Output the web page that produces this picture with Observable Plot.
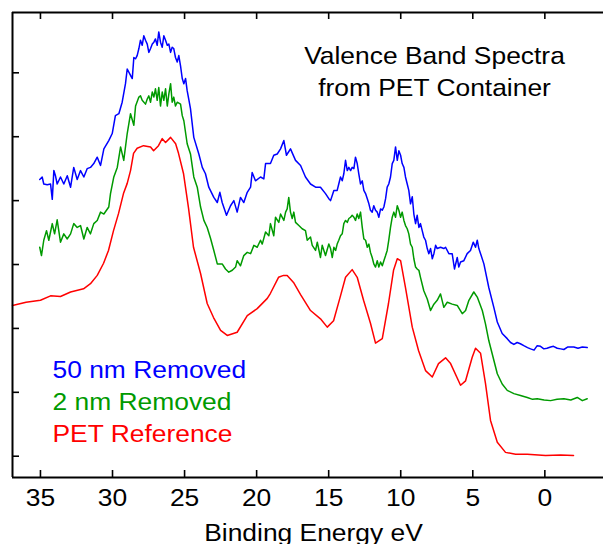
<!DOCTYPE html>
<html>
<head>
<meta charset="utf-8">
<script src="https://cdn.jsdelivr.net/npm/d3@7"></script>
<script src="https://cdn.jsdelivr.net/npm/@observablehq/plot@0.6"></script>
<style>
  html, body { margin: 0; padding: 0; background: #fff; }
  #chart svg { display: block; }
</style>
</head>
<body>
<div id="chart"></div>
<script>
// Valence band XPS spectra (binding energy in eV, intensity in arbitrary units, offset per spectrum)
const blueEnergy = [35.05,34.88,34.77,34.53,34.30,34.18,34.07,33.96,33.84,33.61,33.38,33.14,32.91,32.69,32.45,32.22,31.99,31.76,31.53,31.30,31.06,30.83,30.60,30.26,30.02,
  29.80,29.56,29.33,29.10,28.98,28.75,28.63,28.52,28.40,28.29,28.17,28.06,27.94,27.83,27.71,27.59,27.48,27.36,27.24,27.13,27.02,26.90,26.79,26.67,26.55,26.44,26.32,26.20,26.09,25.97,25.86,25.75,25.63,25.51,25.40,25.28,25.16,25.05,24.93,24.82,24.71,24.59,
  24.36,24.01,23.77,23.55,23.32,22.97,22.73,22.55,22.39,22.09,21.81,21.58,21.35,21.12,20.89,20.65,20.42,20.31,20.08,19.73,19.50,19.38,19.04,18.81,18.57,18.34,18.11,17.93,17.65,17.30,16.95,16.61,16.26,15.91,15.57,15.22,14.99,
  14.87,14.64,14.41,14.30,14.18,14.06,13.95,13.83,13.71,13.60,13.48,13.37,13.25,13.14,13.02,12.91,12.79,12.67,12.56,12.44,12.32,12.21,12.10,11.98,11.87,11.75,11.63,11.52,11.40,11.28,11.17,11.05,10.94,10.83,10.71,10.59,10.48,10.36,10.24,10.13,10.01,9.90,9.78,9.67,9.55,9.44,9.32,9.20,9.09,8.97,8.86,8.74,8.63,8.51,8.40,8.28,8.16,8.05,7.93,7.81,7.70,7.58,7.47,7.24,7.01,6.89,6.66,6.43,6.27,6.08,5.97,5.85,5.62,5.39,5.16,4.97,4.81,4.69,4.58,4.46,4.23,
  3.89,3.54,3.30,2.96,2.61,2.38,2.15,1.92,1.70,1.46,1.20,0.99,0.75,0.53,0.30,0.07,-0.15,-0.40,-0.60,-0.86,-1.10,-1.32,-1.60,-2.01,-2.30,-2.60,-2.94];
const blueIntensity = [4.33,4.37,4.26,4.25,4.26,4.02,4.47,4.39,4.26,4.37,4.26,4.39,4.21,4.52,4.33,4.47,4.37,4.50,4.52,4.58,4.68,4.55,4.81,4.94,5.05,
  5.33,5.36,5.54,5.83,6.06,5.96,5.91,6.24,6.22,6.27,6.38,6.51,6.43,6.58,6.51,6.45,6.32,6.38,6.45,6.48,6.53,6.43,6.64,6.48,6.40,6.58,6.51,6.43,6.45,6.32,6.40,6.38,6.24,6.17,6.27,6.11,5.91,5.83,5.91,5.72,5.59,5.44,
  4.99,4.73,4.52,4.42,4.21,4.05,3.97,4.13,3.97,3.77,3.92,4.00,3.82,4.05,3.97,4.13,4.21,4.44,4.31,4.37,4.34,4.58,4.58,4.71,4.73,4.81,4.94,4.71,4.81,4.63,4.55,4.37,4.26,4.21,4.21,4.11,4.03,
  4.00,4.16,4.16,4.26,4.37,4.31,4.42,4.63,4.47,4.52,4.47,4.52,4.50,4.68,4.58,4.42,4.26,4.31,4.16,4.11,4.03,3.95,3.85,3.82,3.92,3.85,3.82,3.74,3.87,3.85,3.90,4.03,4.21,4.26,4.37,4.58,4.63,4.84,4.63,4.78,4.71,4.58,4.52,4.37,4.26,4.16,3.95,4.06,3.79,3.64,3.77,3.58,3.64,3.53,3.43,3.38,3.25,3.17,3.25,3.09,3.17,3.30,3.25,3.27,3.25,3.27,3.17,3.17,2.93,3.11,2.96,3.04,3.06,3.17,3.22,3.35,3.27,3.38,3.25,3.17,3.01,
  2.64,2.33,2.10,1.92,1.84,1.78,1.75,1.78,1.76,1.73,1.70,1.68,1.66,1.73,1.72,1.68,1.69,1.71,1.72,1.69,1.68,1.67,1.71,1.71,1.69,1.71,1.70];

const greenEnergy = [35.05,34.93,34.77,34.58,34.42,34.18,34.02,33.84,33.61,33.38,33.14,32.91,32.69,32.45,32.22,31.99,31.76,31.53,31.30,31.06,30.83,30.60,30.26,30.14,29.91,29.67,29.44,29.22,28.98,
  28.75,28.52,28.40,28.17,28.06,27.94,27.71,27.59,27.48,27.36,27.24,27.13,27.02,26.90,26.79,26.67,26.55,26.44,26.32,26.20,26.09,25.97,25.86,25.75,25.63,25.51,25.28,25.16,25.05,
  24.82,24.59,24.36,24.12,23.89,23.66,23.43,23.20,22.97,22.73,22.39,
  22.16,21.93,21.69,21.46,21.35,21.12,20.89,20.65,20.42,20.19,19.96,19.73,19.61,19.38,19.15,19.04,18.81,18.69,18.46,18.34,18.11,17.99,17.88,17.77,17.65,17.53,17.42,17.30,17.07,16.84,16.61,16.49,16.26,16.14,15.91,15.79,15.57,15.45,15.22,14.99,
  14.87,14.75,14.64,14.52,14.41,14.30,14.18,14.06,13.95,13.83,13.71,13.60,13.48,13.37,13.25,13.14,13.02,12.91,12.79,12.67,12.56,12.44,12.32,12.21,12.10,11.98,11.87,11.75,11.63,11.52,11.40,11.28,11.17,11.05,10.94,10.83,10.71,10.59,10.48,10.36,10.24,10.13,10.01,9.90,9.78,9.67,9.55,9.44,9.32,9.20,9.09,8.97,8.86,8.74,8.63,
  8.40,8.16,7.93,7.70,7.47,7.24,7.01,6.77,6.43,6.08,5.73,5.50,5.27,4.93,4.69,4.34,4.12,3.89,3.65,3.30,2.96,2.61,2.15,1.69,1.22,0.85,0.53,0.05,-0.40,-0.85,-1.32,-1.80,-2.25,-2.60,-2.94];
const greenIntensity = [3.27,3.14,3.38,3.53,3.38,3.64,3.48,3.70,3.35,3.48,3.40,3.48,3.64,3.58,3.61,3.40,3.58,3.48,3.64,3.69,3.82,3.79,3.90,4.11,4.37,4.52,4.84,4.63,5.05,
  5.36,5.18,5.48,5.62,5.64,5.57,5.51,5.59,5.64,5.54,5.70,5.62,5.75,5.57,5.77,5.48,5.70,5.57,5.75,5.48,5.67,5.83,5.54,5.62,5.48,5.54,5.51,5.33,5.25,
  4.89,4.73,4.37,4.21,3.90,3.69,3.58,3.41,3.22,3.01,3.01,
  2.93,2.88,2.91,2.96,3.06,2.98,3.14,3.19,3.17,3.30,3.27,3.38,3.32,3.51,3.45,3.64,3.45,3.74,3.66,3.79,3.69,3.82,3.87,4.05,3.82,3.72,3.82,3.66,3.61,3.56,3.53,3.38,3.43,3.30,3.22,3.35,3.11,3.30,3.14,3.32,
  3.25,3.11,3.27,3.22,3.32,3.38,3.45,3.48,3.64,3.69,3.66,3.72,3.74,3.77,3.74,3.69,3.79,3.72,3.82,3.58,3.40,3.38,3.27,3.32,3.19,3.11,3.01,2.96,3.06,2.96,3.04,2.98,3.06,3.14,3.22,3.38,3.58,3.74,3.82,3.74,3.92,3.85,3.74,3.82,3.69,3.61,3.56,3.48,3.32,3.27,3.09,2.96,2.93,2.91,2.80,
  2.59,2.46,2.28,2.38,2.44,2.54,2.33,2.41,2.38,2.36,2.23,2.28,2.44,2.57,2.49,2.28,2.07,1.81,1.60,1.29,1.13,1.03,0.98,0.95,0.92,0.89,0.90,0.88,0.87,0.89,0.90,0.88,0.92,0.87,0.90];

const redEnergy = [36.94,36.00,35.00,34.30,33.61,32.91,32.01,31.53,31.06,30.62,30.28,29.93,29.58,29.24,28.98,28.75,28.54,28.29,27.85,27.36,27.15,26.81,26.55,26.32,25.97,25.62,25.42,25.07,24.73,24.38,23.89,23.43,22.99,22.50,22.04,21.35,20.65,19.96,19.26,19.04,18.48,18.13,17.88,17.44,16.95,16.26,15.57,15.10,14.66,14.18,13.83,13.37,13.02,12.58,12.10,11.75,11.28,10.85,10.50,10.24,10.01,9.67,9.20,8.76,8.28,7.81,7.38,6.89,6.54,5.85,5.50,5.04,4.81,4.46,4.12,3.77,3.30,2.73,2.03,1.22,-0.05,-1.09,-1.99];
const redIntensity = [2.36,2.41,2.44,2.51,2.50,2.57,2.62,2.70,2.83,3.02,3.22,3.53,3.80,4.11,4.27,4.47,4.74,4.82,4.86,4.84,4.78,4.86,4.97,4.91,4.99,4.89,4.74,4.42,3.89,3.27,2.86,2.39,2.17,1.97,1.89,1.94,2.20,2.31,2.47,2.55,2.80,2.83,2.83,2.72,2.53,2.28,2.15,2.02,2.12,2.51,2.80,2.92,2.80,2.44,2.08,1.77,1.84,2.39,2.91,3.09,3.06,2.64,2.02,1.65,1.34,1.24,1.45,1.54,1.45,1.11,1.18,1.55,1.69,1.61,1.14,0.56,0.22,0.06,0.03,0.03,0.01,0.02,0.01];

const seriesNames = ["50 nm Removed", "2 nm Removed", "PET Reference"];
const seriesColors = ["#0000ff", "#009a00", "#ff0000"];
const xTicks = [35, 30, 25, 20, 15, 10, 5, 0];
const yTicks = [0, 1, 2, 3, 4, 5, 6];
const xLabel = "Binding Energy eV";
const titleText = "Valence Band Spectra\nfrom PET Container";

const spectra = [
  {name: seriesNames[0], energy: blueEnergy, intensity: blueIntensity},
  {name: seriesNames[1], energy: greenEnergy, intensity: greenIntensity},
  {name: seriesNames[2], energy: redEnergy, intensity: redIntensity}
];
const points = spectra.flatMap(s =>
  s.energy.map((e, i) => ({name: s.name, energy: e, intensity: s.intensity[i]}))
);

const W = 603, H = 544;
const mt = 12, mb = 67, ml = 12, mr = 0;
const innerW = W - ml - mr, innerH = H - mt - mb;
const tickLen = 7;
const xDomain = [36.94, -4.07];
const yDomain = [-0.333, 6.944];
const font = "'Liberation Sans', Arial, Helvetica, sans-serif";

const legendMarks = seriesNames.map((name, i) =>
  Plot.text([name], {
    frameAnchor: "top-left", textAnchor: "start", lineAnchor: "bottom",
    dx: 40, dy: 365.7 + 32 * i, fontSize: 24, fill: seriesColors[i]
  })
);

const chart = Plot.plot({
  width: W, height: H,
  marginTop: mt, marginBottom: mb, marginLeft: ml, marginRight: mr,
  style: {fontFamily: font, background: "#fff", overflow: "visible"},
  x: {domain: xDomain, axis: null},
  y: {domain: yDomain, axis: null},
  color: {domain: seriesNames, range: seriesColors},
  marks: [
    Plot.lineY(points, {x: "energy", y: "intensity", z: "name", stroke: "name", strokeWidth: 1.5}),
    // open frame: left, top and bottom edges
    Plot.ruleX([xDomain[0]], {stroke: "#000", strokeWidth: 2}),
    Plot.ruleY([yDomain[0], yDomain[1]], {stroke: "#000", strokeWidth: 2}),
    // inward tick marks
    Plot.ruleX(xTicks, {insetTop: innerH - tickLen, stroke: "#000", strokeWidth: 1.6}),
    Plot.ruleX(xTicks, {insetBottom: innerH - tickLen, stroke: "#000", strokeWidth: 1.6}),
    Plot.ruleY(yTicks, {insetRight: innerW - tickLen, stroke: "#000", strokeWidth: 1.6}),
    // tick labels and axis title
    Plot.text(xTicks, {x: d => d, text: d => String(d), frameAnchor: "bottom", lineAnchor: "bottom", dy: 28, fontSize: 24, fill: "#000"}),
    Plot.text([xLabel], {frameAnchor: "bottom", lineAnchor: "bottom", dx: 5.5, dy: 63, fontSize: 24, fill: "#000"}),
    Plot.text([titleText], {frameAnchor: "top", lineAnchor: "bottom", dx: 126.5, dy: 83, lineHeight: 1.32, fontSize: 24, fill: "#000"}),
    ...legendMarks
  ]
});

// widen the glyphs slightly, keeping each label's anchor point fixed
chart.querySelectorAll("text").forEach(t => {
  const x = t.getAttribute("x"), y = t.getAttribute("y");
  let tr = t.getAttribute("transform") || "";
  if (x !== null || y !== null) {
    tr += ` translate(${x || 0},${y || 0})`;
    t.removeAttribute("x");
    t.removeAttribute("y");
  }
  t.setAttribute("transform", `${tr} scale(1.1,1)`);
});

document.getElementById("chart").appendChild(chart);
</script>
</body>
</html>
